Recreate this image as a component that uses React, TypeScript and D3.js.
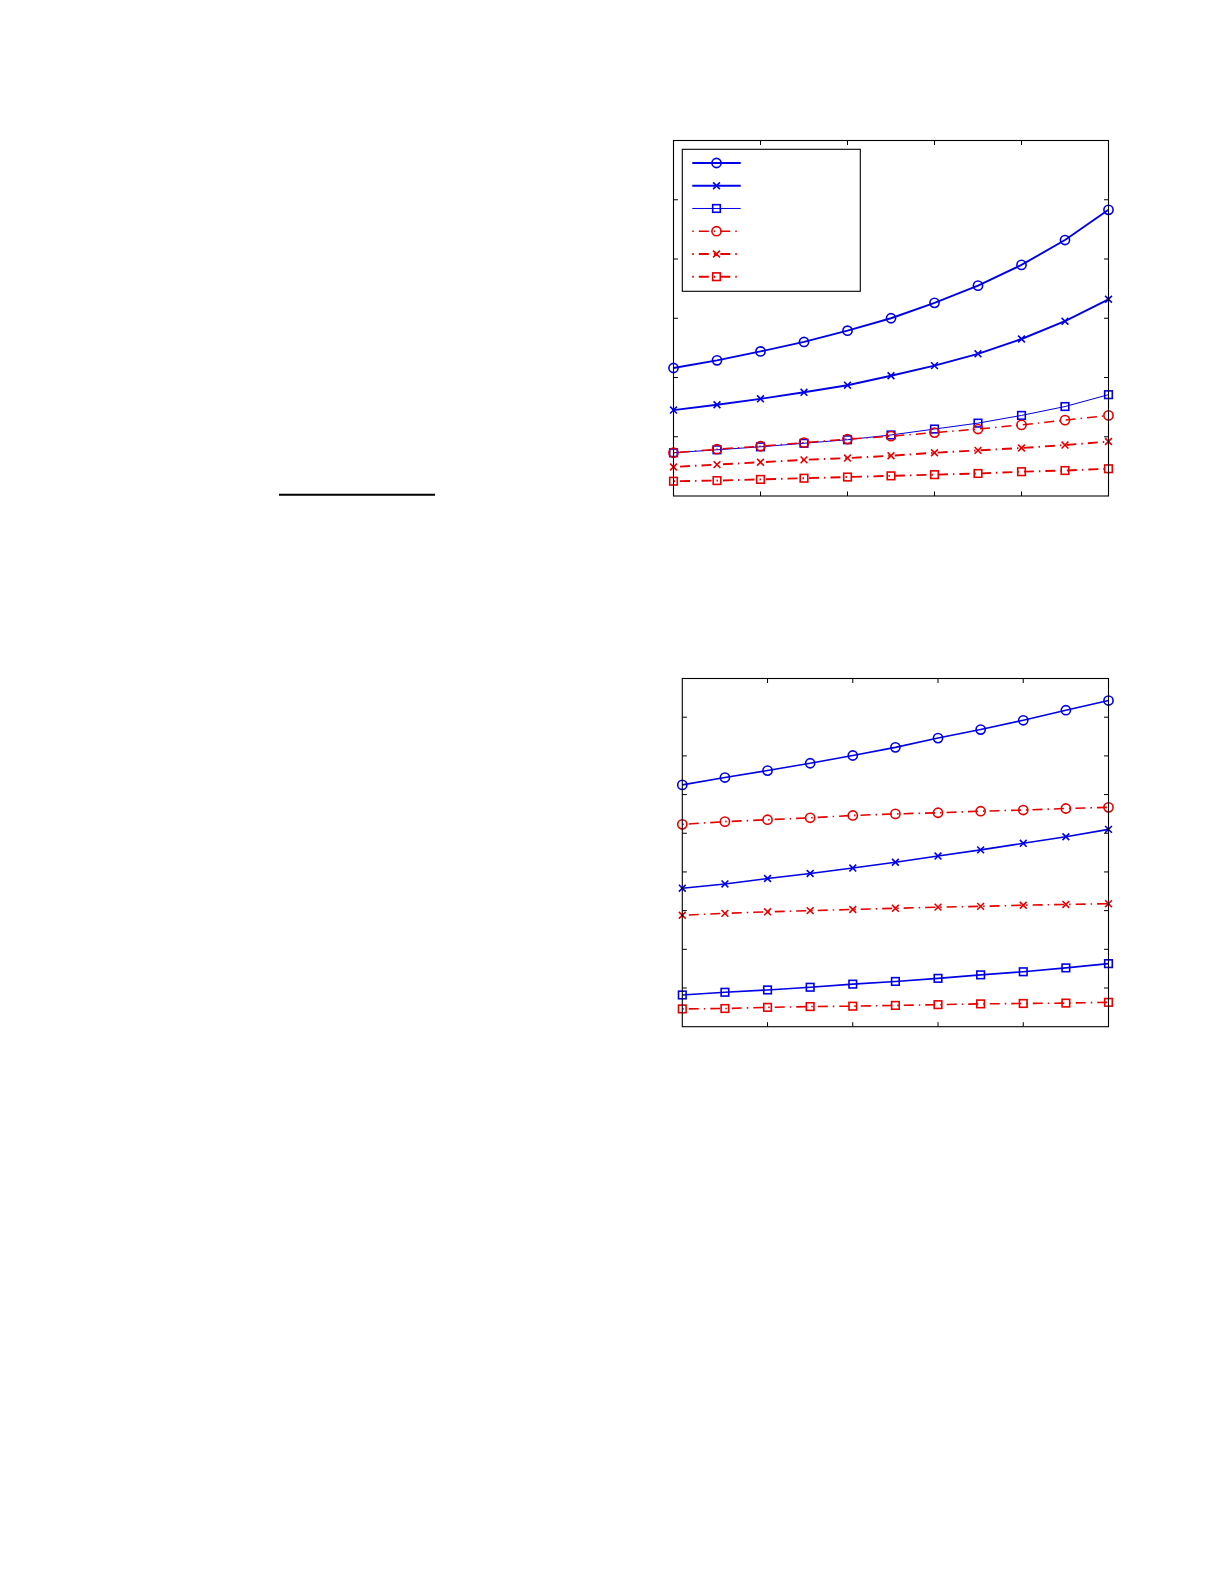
import * as d3 from 'd3'
import { useEffect, useRef } from 'react'

// x positions shared by both panels (11 samples)
const xs = [0, 1, 2, 3, 4, 5, 6, 7, 8, 9, 10]
const xTicks = [0, 2, 4, 6, 8, 10]

// top panel series
const topBlueCircle = [2.16, 2.29, 2.44, 2.6, 2.79, 3.0, 3.26, 3.55, 3.9, 4.32, 4.83]
const topBlueCross = [1.45, 1.54, 1.64, 1.75, 1.87, 2.03, 2.2, 2.4, 2.65, 2.95, 3.32]
const topBlueSquare = [0.73, 0.78, 0.83, 0.89, 0.95, 1.03, 1.13, 1.23, 1.36, 1.51, 1.71]
const topRedCircle = [0.73, 0.79, 0.84, 0.9, 0.96, 1.01, 1.07, 1.13, 1.2, 1.28, 1.36]
const topRedCross = [0.49, 0.53, 0.57, 0.61, 0.64, 0.68, 0.73, 0.77, 0.81, 0.86, 0.92]
const topRedSquare = [0.25, 0.26, 0.28, 0.3, 0.32, 0.34, 0.36, 0.38, 0.41, 0.43, 0.46]
const topYTicks = [0, 1, 2, 3, 4, 5, 6]

// bottom panel series
const botBlueCircle = [6.25, 6.44, 6.62, 6.81, 7.01, 7.22, 7.46, 7.68, 7.92, 8.18, 8.43]
const botRedCircle = [5.23, 5.3, 5.35, 5.4, 5.46, 5.5, 5.53, 5.57, 5.6, 5.64, 5.67]
const botBlueCross = [3.58, 3.69, 3.83, 3.96, 4.1, 4.25, 4.41, 4.57, 4.74, 4.91, 5.1]
const botRedCross = [2.88, 2.93, 2.97, 3.0, 3.03, 3.06, 3.09, 3.11, 3.14, 3.16, 3.18]
const botBlueSquare = [0.82, 0.89, 0.95, 1.02, 1.1, 1.17, 1.25, 1.34, 1.42, 1.52, 1.63]
const botRedSquare = [0.46, 0.47, 0.5, 0.52, 0.53, 0.55, 0.57, 0.59, 0.6, 0.61, 0.63]
const botYTicks = [0, 1, 2, 3, 4, 5, 6, 7, 8, 9]

const BLUE = '#0000e6'
const RED = '#e60000'
const DASHDOT = '1.5 5 10 5'

type Marker = 'circle' | 'cross' | 'square'
type Series = { values: number[]; color: string; marker: Marker; width: number; dash?: string }

const topSeries: Series[] = [
  { values: topBlueCircle, color: BLUE, marker: 'circle', width: 1.9 },
  { values: topBlueCross, color: BLUE, marker: 'cross', width: 1.9 },
  { values: topBlueSquare, color: BLUE, marker: 'square', width: 1 },
  { values: topRedCircle, color: RED, marker: 'circle', width: 1.5, dash: DASHDOT },
  { values: topRedCross, color: RED, marker: 'cross', width: 1.9, dash: DASHDOT },
  { values: topRedSquare, color: RED, marker: 'square', width: 1.9, dash: DASHDOT },
]

const botSeries: Series[] = [
  { values: botBlueCircle, color: BLUE, marker: 'circle', width: 1.6 },
  { values: botRedCircle, color: RED, marker: 'circle', width: 1.6, dash: DASHDOT },
  { values: botBlueCross, color: BLUE, marker: 'cross', width: 1.6 },
  { values: botRedCross, color: RED, marker: 'cross', width: 1.6, dash: DASHDOT },
  { values: botBlueSquare, color: BLUE, marker: 'square', width: 1.6 },
  { values: botRedSquare, color: RED, marker: 'square', width: 1.6, dash: DASHDOT },
]

function drawMarker(
  g: d3.Selection<SVGGElement, unknown, null, undefined>,
  kind: Marker,
  cx: number,
  cy: number,
  color: string,
) {
  const sw = 1.6
  if (kind === 'circle') {
    g.append('circle').attr('cx', cx).attr('cy', cy).attr('r', 4.6).attr('fill', 'none').attr('stroke', color).attr('stroke-width', sw)
  } else if (kind === 'square') {
    g.append('rect')
      .attr('x', cx - 3.8)
      .attr('y', cy - 3.8)
      .attr('width', 7.6)
      .attr('height', 7.6)
      .attr('fill', 'none')
      .attr('stroke', color)
      .attr('stroke-width', sw)
  } else {
    const s = 3.4
    g.append('path')
      .attr('d', `M${cx - s},${cy - s}L${cx + s},${cy + s}M${cx - s},${cy + s}L${cx + s},${cy - s}`)
      .attr('stroke', color)
      .attr('stroke-width', sw)
      .attr('fill', 'none')
  }
}

function drawPanel(
  svg: d3.Selection<SVGSVGElement, unknown, null, undefined>,
  box: { left: number; top: number; right: number; bottom: number },
  yTicks: number[],
  series: Series[],
) {
  const x = d3.scaleLinear().domain([xTicks[0], xTicks[xTicks.length - 1]]).range([box.left, box.right])
  const y = d3.scaleLinear().domain([yTicks[0], yTicks[yTicks.length - 1]]).range([box.bottom, box.top])
  const g = svg.append('g')
  const tick = 4.5

  const line = d3
    .line<number>()
    .x((_, i) => x(xs[i]))
    .y((d) => y(d))

  series.forEach((s) => {
    g.append('path')
      .datum(s.values)
      .attr('fill', 'none')
      .attr('stroke', s.color)
      .attr('stroke-width', s.width)
      .attr('stroke-dasharray', s.dash ?? null)
      .attr('d', line)
    s.values.forEach((v, i) => drawMarker(g, s.marker, x(xs[i]), y(v), s.color))
  })

  // frame
  g.append('rect')
    .attr('x', box.left)
    .attr('y', box.top)
    .attr('width', box.right - box.left)
    .attr('height', box.bottom - box.top)
    .attr('fill', 'none')
    .attr('stroke', '#000')
    .attr('stroke-width', 1.1)

  // inward ticks on all four sides, no labels
  xTicks.slice(1, -1).forEach((t) => {
    const px = x(t)
    g.append('line').attr('x1', px).attr('x2', px).attr('y1', box.bottom).attr('y2', box.bottom - tick).attr('stroke', '#000')
    g.append('line').attr('x1', px).attr('x2', px).attr('y1', box.top).attr('y2', box.top + tick).attr('stroke', '#000')
  })
  yTicks.slice(1, -1).forEach((t) => {
    const py = y(t)
    g.append('line').attr('x1', box.left).attr('x2', box.left + tick).attr('y1', py).attr('y2', py).attr('stroke', '#000')
    g.append('line').attr('x1', box.right).attr('x2', box.right - tick).attr('y1', py).attr('y2', py).attr('stroke', '#000')
  })

  return g
}

export default function App() {
  const svgRef = useRef<SVGSVGElement>(null)

  useEffect(() => {
    if (!svgRef.current) return
    document.body.style.margin = '0'
    const svg = d3.select(svgRef.current)
    svg.selectAll('*').remove()

    drawPanel(svg, { left: 673.5, top: 140.5, right: 1108.5, bottom: 496 }, topYTicks, topSeries)
    drawPanel(svg, { left: 682.3, top: 678.5, right: 1108.5, bottom: 1026.7 }, botYTicks, botSeries)

    // legend of the top panel (labels absent in the source)
    const lg = svg.append('g')
    lg.append('rect')
      .attr('x', 682.3)
      .attr('y', 149.3)
      .attr('width', 178)
      .attr('height', 142)
      .attr('fill', '#fff')
      .attr('stroke', '#000')
      .attr('stroke-width', 1.1)
    const rowY = d3.scalePoint<number>().domain(d3.range(topSeries.length)).range([163, 276.7])
    topSeries.forEach((s, i) => {
      const yy = rowY(i) ?? 0
      lg.append('line')
        .attr('x1', 692.3)
        .attr('x2', 740.7)
        .attr('y1', yy)
        .attr('y2', yy)
        .attr('stroke', s.color)
        .attr('stroke-width', s.width)
        .attr('stroke-dasharray', s.dash ?? null)
      drawMarker(lg, s.marker, 716.5, yy, s.color)
    })

    // stray rule on the left
    svg.append('line').attr('x1', 279).attr('x2', 435).attr('y1', 494.7).attr('y2', 494.7).attr('stroke', '#000').attr('stroke-width', 2)
  }, [])

  return <svg ref={svgRef} width={1225} height={1585} style={{ display: 'block', background: '#fff' }} />
}
